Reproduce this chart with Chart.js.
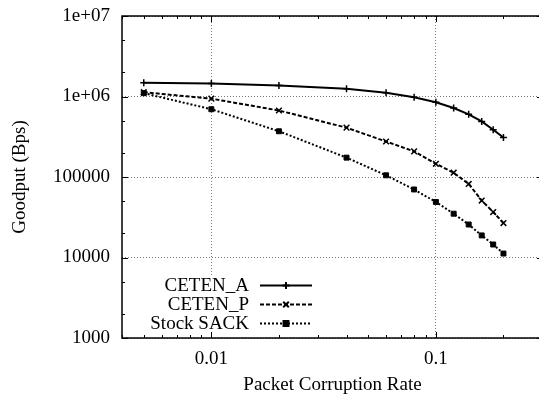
<!DOCTYPE html>
<html>
<head>
<meta charset="utf-8">
<script src="https://cdn.jsdelivr.net/npm/chart.js@4"></script>
<style>
  html, body { margin: 0; padding: 0; background: #fff; overflow: hidden; }
  #wrap { width: 560px; height: 399px; }
</style>
</head>
<body>
<div id="wrap"><canvas id="myChart" width="560" height="399"></canvas></div>
<script>
'use strict';

// packet corruption rates (x)
var rates = [0.005, 0.01, 0.02, 0.04, 0.06, 0.08, 0.1, 0.12, 0.14, 0.16, 0.18, 0.2];
// goodput in Bps
var cetenA = [1480000, 1450000, 1370000, 1250000, 1110000, 980000, 850000, 720000, 600000, 490000, 386000, 310000];
var cetenP = [1130000, 940000, 670000, 410000, 276000, 208000, 146000, 113000, 82000, 51000, 36700, 26800];
var stockSack = [1100000, 695000, 370000, 174000, 105000, 70000, 49000, 35000, 25700, 18800, 14500, 11200];

var seriesNames = ['CETEN_A', 'CETEN_P', 'Stock SACK'];

var xTicks = [0.01, 0.1];
var xTickLabels = ['0.01', '0.1'];
var yTicks = [1000, 10000, 100000, 1000000, 10000000];
var yTickLabels = ['1000', '10000', '100000', '1e+06', '1e+07'];

var FONT = "'Liberation Serif', 'Times New Roman', serif";

function toPoints(ys) {
  return rates.map(function (r, i) { return {x: r, y: ys[i]}; });
}

// frame + inward tick marks, like gnuplot
var frameTicks = {
  id: 'frameTicks',
  afterDraw: function (chart) {
    var ctx = chart.ctx;
    var a = chart.chartArea;
    var xs = chart.scales.x, ys = chart.scales.y;
    ctx.save();
    ctx.strokeStyle = '#000';
    ctx.lineWidth = 1;
    ctx.beginPath();
    // x ticks
    for (var d = 0.001; d < 1; d *= 10) {
      for (var m = 1; m < 10; m++) {
        var v = d * m;
        if (v < xs.min || v > xs.max) continue;
        var px = Math.round(xs.getPixelForValue(v)) + 0.5;
        var len = m === 1 ? 6 : 3;
        ctx.moveTo(px, a.bottom); ctx.lineTo(px, a.bottom - len);
        ctx.moveTo(px, a.top); ctx.lineTo(px, a.top + len);
      }
    }
    // y ticks
    for (var e = 1000; e <= 10000000; e *= 10) {
      [1, 2, 5].forEach(function (m) {
        var v = e * m;
        if (v > ys.max) return;
        var py = Math.round(ys.getPixelForValue(v)) + 0.5;
        var len = m === 1 ? 6 : 3;
        ctx.moveTo(a.left, py); ctx.lineTo(a.left + len, py);
        ctx.moveTo(a.right, py); ctx.lineTo(a.right - len, py);
      });
    }
    ctx.stroke();
    ctx.lineWidth = 1.5;
    ctx.strokeRect(a.left, a.top, a.right - a.left, a.bottom - a.top);
    ctx.restore();
  }
};

// gnuplot style key: text right aligned, sample on the right
var keyPlugin = {
  id: 'keyPlugin',
  afterDatasetsDraw: function (chart) {
    var ctx = chart.ctx;
    ctx.save();
    ctx.fillStyle = '#fff';
    ctx.fillRect(140, 275, 185, 59);
    var rows = [285, 304, 323];
    ctx.font = '19px ' + FONT;
    ctx.textAlign = 'right';
    ctx.textBaseline = 'middle';
    chart.data.datasets.forEach(function (ds, i) {
      var y = rows[i];
      ctx.fillStyle = '#000';
      ctx.fillText(ds.label, 249, y + 1);
      ctx.strokeStyle = '#000';
      ctx.lineWidth = ds.borderWidth;
      ctx.setLineDash(ds.borderDash || []);
      ctx.beginPath();
      ctx.moveTo(260, y + 0.5); ctx.lineTo(312, y + 0.5);
      ctx.stroke();
      ctx.setLineDash([]);
      Chart.helpers.drawPoint(ctx, {
        pointStyle: ds.pointStyle, radius: ds.pointRadius, borderWidth: 1.5, rotation: 0
      }, 286, y + 0.5);
    });
    ctx.restore();
  }
};

var ctx = document.getElementById('myChart');

new Chart(ctx, {
  type: 'line',
  data: {
    datasets: [{
      label: seriesNames[0],
      data: toPoints(cetenA),
      borderColor: '#000', backgroundColor: '#000',
      borderWidth: 2, pointStyle: 'cross', pointRadius: 3.5,
      pointBorderWidth: 1.5
    }, {
      label: seriesNames[1],
      data: toPoints(cetenP),
      borderColor: '#000', backgroundColor: '#000',
      borderWidth: 2, borderDash: [4, 2], pointStyle: 'crossRot', pointRadius: 4,
      pointBorderWidth: 1.5
    }, {
      label: seriesNames[2],
      data: toPoints(stockSack),
      borderColor: '#000', backgroundColor: '#000',
      borderWidth: 2, borderDash: [2, 2], pointStyle: 'rect', pointRadius: 3.5,
      pointBorderWidth: 1
    }]
  },
  options: {
    responsive: false,
    animation: false,
    layout: { padding: { top: 16, right: 17, left: 0, bottom: 0 } },
    plugins: { legend: { display: false }, tooltip: { enabled: false } },
    elements: { line: { tension: 0 } },
    scales: {
      x: {
        type: 'logarithmic',
        min: 0.004,
        max: 0.3,
        afterBuildTicks: function (s) { s.ticks = xTicks.map(function (v) { return {value: v}; }); },
        afterFit: function (s) { s.height = 61; s.paddingLeft = 0; s.paddingRight = 0; },
        ticks: {
          autoSkip: false, maxRotation: 0, padding: 10, color: '#000',
          font: { family: FONT, size: 19 },
          callback: function (v) { return xTickLabels[xTicks.indexOf(v)]; }
        },
        grid: { color: '#777', lineWidth: 1, drawTicks: false },
        border: { display: false, dash: [1, 2] },
        title: {
          display: true, text: 'Packet Corruption Rate', color: '#000',
          font: { family: FONT, size: 19 }, padding: { top: 0, bottom: 3 }
        }
      },
      y: {
        type: 'logarithmic',
        min: 1000,
        max: 10000000,
        afterBuildTicks: function (s) { s.ticks = yTicks.map(function (v) { return {value: v}; }); },
        afterFit: function (s) { s.width = 122; s.paddingTop = 0; s.paddingBottom = 0; },
        ticks: {
          autoSkip: false, padding: 12, color: '#000',
          font: { family: FONT, size: 19 },
          callback: function (v) { return yTickLabels[yTicks.indexOf(v)]; }
        },
        grid: { color: '#777', lineWidth: 1, drawTicks: false },
        border: { display: false, dash: [1, 2] },
        title: {
          display: true, text: 'Goodput (Bps)', color: '#000',
          font: { family: FONT, size: 19 }, padding: { top: 9, bottom: 0 }
        }
      }
    }
  },
  plugins: [keyPlugin, frameTicks]
});
</script>
</body>
</html>
